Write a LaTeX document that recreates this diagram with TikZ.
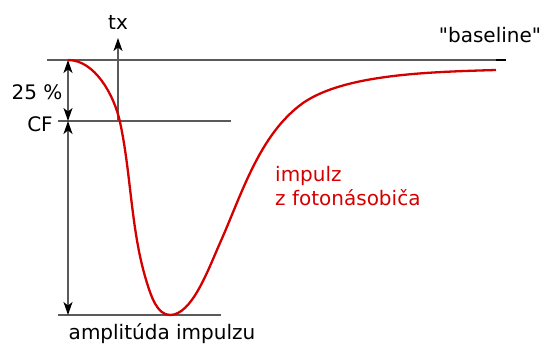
\documentclass[tikz,border=0pt]{standalone}
\usepackage{fontspec}
\setmainfont{DejaVu Sans}
\newfontfamily\plainfont{DejaVu Sans}
\usetikzlibrary{arrows.meta, positioning}
\definecolor{pulsered}{HTML}{D40000}
\definecolor{guidegray}{HTML}{5A5A5A}

\begin{document}
\begin{tikzpicture}[
        x=1pt, y=-1pt,
        guide/.style={draw=guidegray, line width=1.7pt},
        dim/.style={draw=guidegray, line width=1.6pt, {Stealth[length=13pt, width=9pt, inset=3.5pt, black]}-{Stealth[length=13pt, width=9pt, inset=3.5pt, black]}},
        arrow/.style={draw=guidegray, line width=1.6pt, -{Stealth[length=13pt, width=9pt, inset=3.5pt, black]}},
        lbl/.style={font=\fontsize{20}{24}\selectfont, inner sep=0pt},
        pulse/.style={draw=pulsered, line width=2.3pt}
        ]
        \useasboundingbox (0,0) rectangle (542,344);

        % reference levels
        \coordinate (blstart) at (47,60);
        \coordinate (blend) at (496,60);
        \coordinate (bltip) at (506,60);
        \coordinate (cfstart) at (58,121);
        \coordinate (cfend) at (231,121);
        \coordinate (ampstart) at (58,315);
        \coordinate (ampend) at (221,315);

        \coordinate (peak) at (68,60);
        \coordinate (cf) at (68,121);
        \coordinate (amp) at (68,315);
        \coordinate (txfoot) at (118,121);
        \coordinate (txhead) at (118,38);

        \draw[guide] (blstart) -- (blend);
        \draw[line width=2.2pt, black] (blend) -- (bltip);
        \draw[guide] (cfstart) -- (cfend);
        \draw[guide] (ampstart) -- (ampend);

        \draw[dim] (peak) -- (cf);
        \draw[dim] (cf) -- (amp);
        \draw[arrow] (txfoot) -- (txhead);

        % pulse
        \draw[pulse] (68,60) .. controls (95,60) and (114.3,95.6) .. (120,122)
            .. controls (131.4,174.8) and (130.8,231.5) .. (147,283)
            .. controls (150.9,295.4) and (157,315) .. (170,315)
            .. controls (192,315) and (208.2,269.5) .. (220,243)
            .. controls (242,193.7) and (259.2,134.5) .. (303,103)
            .. controls (345,74) and (430,72) .. (496,70);

        \node[lbl] (tx) at (118,22) {tx};
        \node[lbl] (pct) at (37,92) {25 \%};
        \node[lbl] (cflbl) at (40,124) {CF};
        \node[lbl, font=\plainfont\fontsize{20}{24}\selectfont] (baseline) at (490,35) {"baseline"};
        \node[lbl, anchor=base] (amplbl) at (162,340) {amplitúda impulzu};
        \node[lbl, text=pulsered, align=left, anchor=north west] (pulselbl) at (275,166) {impulz\\z fotonásobiča};
    \end{tikzpicture}
\end{document}
